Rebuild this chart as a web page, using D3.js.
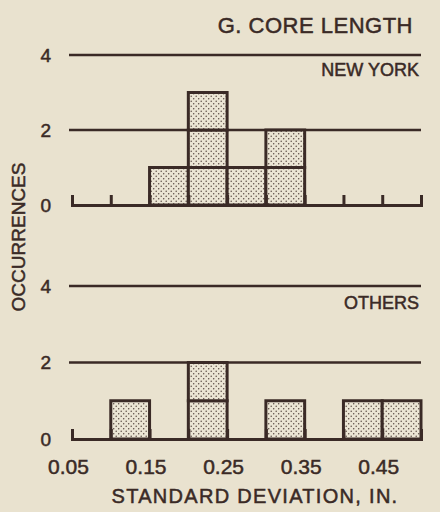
<!DOCTYPE html>
<html>
<head>
<meta charset="utf-8">
<script src="https://cdn.jsdelivr.net/npm/d3@7"></script>
<style>
  html, body { margin: 0; padding: 0; background: #e9e2cf; }
  svg { display: block; }
  text { font-family: "Liberation Sans", Arial, sans-serif; fill: #3a2a26; stroke: #3a2a26; stroke-width: 0.5px; }
</style>
</head>
<body>
<div id="chart"></div>
<script>
// bin left edges (standard deviation, in.) and counts per bin
var binStarts = [0.05, 0.10, 0.15, 0.20, 0.25, 0.30, 0.35, 0.40, 0.45];
var binWidth = 0.05;
var newYorkCounts = [0, 0, 1, 3, 1, 2, 0, 0, 0];
var othersCounts  = [0, 1, 0, 2, 0, 1, 0, 1, 1];
var xTickLabels = [0.05, 0.15, 0.25, 0.35, 0.45];
var yTickLabels = [0, 2, 4];
var gridLevels = [2, 4];

var outerWidth = 440, outerHeight = 512;
var ink = "#3a2a26";

var svg = d3.select("#chart")
    .append("svg")
    .attr("width", outerWidth)
    .attr("height", outerHeight);

// stipple pattern for the boxes
var pat = svg.append("defs").append("pattern")
    .attr("id", "stipple")
    .attr("patternUnits", "userSpaceOnUse")
    .attr("width", 5).attr("height", 5);
pat.append("rect").attr("width", 5).attr("height", 5).attr("fill", "#ebe5d4");
pat.append("circle").attr("cx", 1.2).attr("cy", 1.2).attr("r", 0.75).attr("fill", "#5a4a44");
pat.append("circle").attr("cx", 3.7).attr("cy", 3.7).attr("r", 0.75).attr("fill", "#5a4a44");

var x = d3.scaleLinear().domain([0.05, 0.50]).range([72, 421]);
var binEdges = d3.range(0, 10).map(i => +(0.05 + i * binWidth).toFixed(2));

function drawPanel(counts, y, name, nameY) {
    var g = svg.append("g");

    // grid lines at 2 and 4
    g.selectAll(".grid")
        .data(gridLevels)
        .enter().append("line")
        .attr("x1", x(0.05) - 3).attr("x2", x(0.50))
        .attr("y1", d => y(d)).attr("y2", d => y(d))
        .attr("stroke", ink).attr("stroke-width", 2.5);

    // one box per occurrence
    var boxes = [];
    binStarts.forEach((b, i) => {
        for (var k = 0; k < counts[i]; k++) boxes.push({x0: b, level: k});
    });
    g.selectAll(".box")
        .data(boxes)
        .enter().append("rect")
        .attr("x", d => x(d.x0))
        .attr("width", d => x(d.x0 + binWidth) - x(d.x0))
        .attr("y", d => y(d.level + 1))
        .attr("height", d => y(d.level) - y(d.level + 1))
        .attr("fill", "url(#stipple)")
        .attr("stroke", ink).attr("stroke-width", 3);

    // base line with small upward ticks
    var axis = g.append("g")
        .attr("transform", "translate(0," + y(0) + ")")
        .call(d3.axisBottom(x).tickValues(binEdges).tickSize(-10).tickSizeOuter(-10).tickFormat(""));
    axis.selectAll("path, line").attr("stroke", ink).attr("stroke-width", 3);

    // y labels
    var yAxis = g.append("g")
        .attr("transform", "translate(51,0)")
        .call(d3.axisLeft(y).tickValues(yTickLabels).tickSize(0).tickPadding(0).tickFormat(d3.format("d")));
    yAxis.select(".domain").remove();
    yAxis.selectAll("text")
        .style("font-family", "Liberation Sans, Arial, sans-serif")
        .style("font-size", "19px")
        .attr("fill", ink);

    g.append("text")
        .attr("x", 419).attr("y", nameY)
        .attr("text-anchor", "end")
        .style("font-size", "18px")
        .text(name);
}

var yTop = d3.scaleLinear().domain([0, 4]).range([205, 55]);
var yBottom = d3.scaleLinear().domain([0, 4]).range([439, 286]);

drawPanel(newYorkCounts, yTop, "NEW YORK", 76);
drawPanel(othersCounts, yBottom, "OTHERS", 309);

// x tick labels under the lower panel
var xLab = svg.append("g")
    .attr("transform", "translate(-4,459)")
    .call(d3.axisBottom(x).tickValues(xTickLabels).tickSize(0).tickPadding(0).tickFormat(d3.format(".2f")));
xLab.select(".domain").remove();
xLab.selectAll("text")
    .style("font-family", "Liberation Sans, Arial, sans-serif")
    .style("font-size", "21px")
    .attr("fill", ink);

// title
svg.append("text")
    .attr("x", 413).attr("y", 33)
    .attr("text-anchor", "end")
    .style("font-size", "22px")
    .style("letter-spacing", "0.5px")
    .text("G. CORE LENGTH");

// axis titles
svg.append("text")
    .attr("x", 255).attr("y", 503)
    .attr("text-anchor", "middle")
    .style("font-size", "20px")
    .style("letter-spacing", "1.3px")
    .text("STANDARD DEVIATION, IN.");

svg.append("text")
    .attr("transform", "translate(25,237) rotate(-90)")
    .attr("text-anchor", "middle")
    .style("font-size", "19px")
    .text("OCCURRENCES");
</script>
</body>
</html>
